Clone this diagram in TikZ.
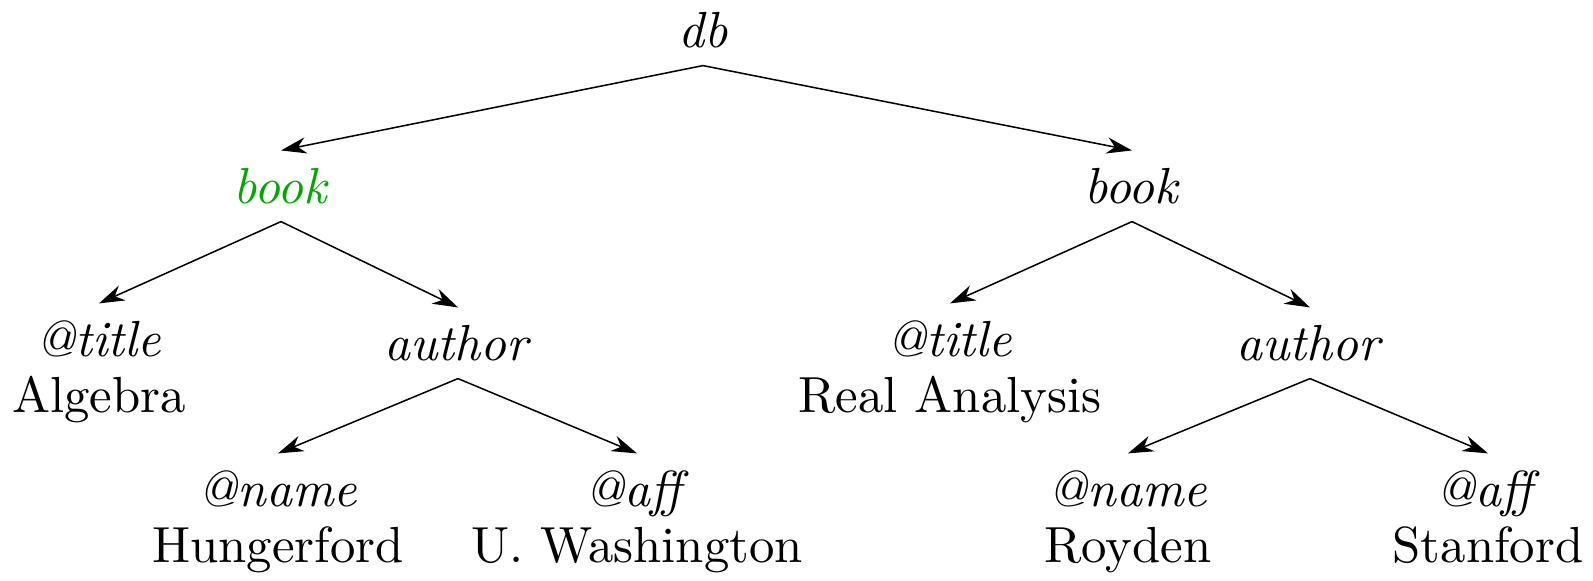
\documentclass[tikz,border=0pt]{standalone}
\usepackage{amsmath}
\usepackage{tikz}
\usetikzlibrary{arrows.meta}
\usepackage{color}

\begin{document}
\begin{tikzpicture}[x=0.197pt,y=-0.197pt,>={Stealth[length=5pt,width=3.2pt,inset=1.6pt]},
  line width=0.3pt,align=center]
\useasboundingbox (0,0) rectangle (1593,580);
\node (db) at (703,30) {\textit{db}};
\node (b1) at (281,186) {\color[rgb]{0,0.66,0}\textit{book}};
\node (b2) at (1132,186) {\textit{book}};
\node (t1) at (99,376) {\textit{@title}\\[-1pt]Algebra\strut};
\node (a1) at (458,343) {\textit{author}};
\node (t2) at (950,376) {\textit{@title}\\[-1pt]Real Analysis\strut};
\node (a2) at (1310,343) {\textit{author}};
\node (n1) at (278,526) {\textit{@name}\\[-1pt]Hungerford\strut};
\node (f1) at (637,526) {\textit{@aff}\\[-1pt]U. Washington\strut};
\node (n2) at (1128,526) {\textit{@name}\\[-1pt]Royden\strut};
\node (f2) at (1488,526) {\textit{@aff}\\[-1pt]Stanford\strut};
\path[->]
(db.south) edge (b1.north)
           edge (b2.north)
(b1.south) edge (t1.north)
           edge (a1.north)
(b2.south) edge (t2.north)
           edge (a2.north)
(a1.south) edge (n1.north)
           edge (f1.north)
(a2.south) edge (n2.north)
           edge (f2.north)
;
\end{tikzpicture}
\end{document}
